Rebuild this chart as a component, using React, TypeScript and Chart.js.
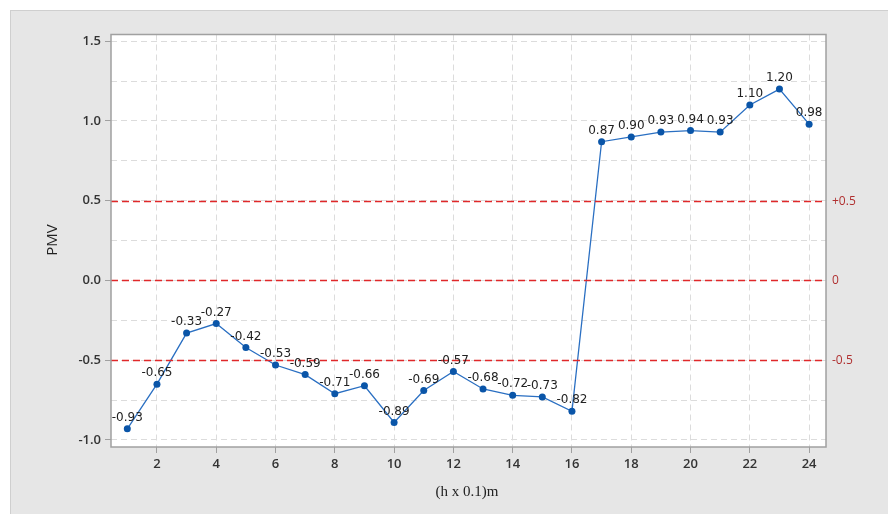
import React, { useEffect, useRef } from "react";
import { Chart, registerables } from "chart.js";

Chart.register(...registerables);

const xValues = [1, 2, 3, 4, 5, 6, 7, 8, 9, 10, 11, 12, 13, 14, 15, 16, 17, 18, 19, 20, 21, 22, 23, 24];
const pmvValues = [-0.93, -0.65, -0.33, -0.27, -0.42, -0.53, -0.59, -0.71, -0.66, -0.89, -0.69, -0.57, -0.68, -0.72, -0.73, -0.82, 0.87, 0.9, 0.93, 0.94, 0.93, 1.1, 1.2, 0.98];
const xTicks = [2, 4, 6, 8, 10, 12, 14, 16, 18, 20, 22, 24];
const yTicks = [-1, -0.75, -0.5, -0.25, 0, 0.25, 0.5, 0.75, 1, 1.25, 1.5];
const refLines = [0.5, 0, -0.5];
const refLabels = ["+0.5", "0", "-0.5"];

const W = 888;
const H = 514;

const decor = {
  id: "decor",
  beforeDraw(chart: any) {
    const ctx = chart.ctx;
    const a = chart.chartArea;
    ctx.save();
    ctx.fillStyle = "#ffffff";
    ctx.fillRect(0, 0, W, H);
    ctx.fillStyle = "#e6e6e6";
    ctx.fillRect(10, 10, W - 10, H - 10);
    ctx.strokeStyle = "#cfcfcf";
    ctx.lineWidth = 1;
    ctx.beginPath();
    ctx.moveTo(10, 10.5);
    ctx.lineTo(W, 10.5);
    ctx.moveTo(10.5, 10);
    ctx.lineTo(10.5, H);
    ctx.stroke();
    ctx.fillStyle = "#ffffff";
    ctx.fillRect(a.left, a.top, a.right - a.left, a.bottom - a.top);
    ctx.restore();
  },
  afterDatasetsDraw(chart: any) {
    const ctx = chart.ctx;
    const a = chart.chartArea;
    const ys = chart.scales.y;
    ctx.save();
    ctx.strokeStyle = "#e0282a";
    ctx.lineWidth = 1.3;
    ctx.setLineDash([7, 4]);
    refLines.forEach((v, i) => {
      const y = Math.round(ys.getPixelForValue(v)) + 0.5;
      ctx.beginPath();
      ctx.moveTo(a.left, y);
      ctx.lineTo(a.right, y);
      ctx.stroke();
      ctx.fillStyle = "#b03030";
      ctx.font = "12px 'Open Sans', sans-serif";
      ctx.textAlign = "left";
      ctx.textBaseline = "middle";
      ctx.fillText(refLabels[i], a.right + 6, y);
    });
    ctx.restore();
  },
  afterDraw(chart: any) {
    const ctx = chart.ctx;
    const a = chart.chartArea;
    const xs = chart.scales.x;
    const ys = chart.scales.y;
    ctx.save();
    ctx.fillStyle = "#222222";
    ctx.font = "12px 'DejaVu Sans', sans-serif";
    ctx.textAlign = "center";
    ctx.textBaseline = "middle";
    xValues.forEach((x, i) => {
      const px = xs.getPixelForValue(x);
      const py = ys.getPixelForValue(pmvValues[i]);
      ctx.fillText(pmvValues[i].toFixed(2), px, py - 11);
    });
    ctx.strokeStyle = "#a0a0a0";
    ctx.lineWidth = 1.5;
    ctx.strokeRect(a.left, a.top, a.right - a.left, a.bottom - a.top);
    ctx.fillStyle = "#222222";
    ctx.font = "15px 'Open Sans', sans-serif";
    ctx.textAlign = "center";
    ctx.textBaseline = "middle";
    ctx.translate(53, 240);
    ctx.rotate(-Math.PI / 2);
    ctx.fillText("PMV", 0, 0);
    ctx.restore();
    ctx.save();
    ctx.fillStyle = "#222222";
    ctx.font = "15px 'Liberation Serif', serif";
    ctx.textAlign = "center";
    ctx.textBaseline = "middle";
    ctx.fillText("(h x 0.1)m", 467, 492);
    ctx.restore();
  },
};

export default function App() {
  const ref = useRef<HTMLCanvasElement | null>(null);
  useEffect(() => {
    if (!ref.current) return;
    const chart = new Chart(ref.current, {
      type: "scatter",
      data: {
        datasets: [
          {
            data: xValues.map((x, i) => ({ x, y: pmvValues[i] })),
            showLine: true,
            borderColor: "#2a6fc2",
            borderWidth: 1.3,
            pointBackgroundColor: "#0a55a8",
            pointBorderColor: "#0a55a8",
            pointRadius: 3.5,
            pointBorderWidth: 0,
          },
        ],
      },
      plugins: [decor],
      options: {
        animation: false,
        responsive: false,
        devicePixelRatio: 1,
        layout: { padding: { top: 34.5, right: 62, left: 0, bottom: 0 } },
        plugins: { legend: { display: false }, tooltip: { enabled: false } },
        scales: {
          x: {
            type: "linear",
            min: 0.45,
            max: 24.57,
            afterBuildTicks: (s: any) => {
              s.ticks = xTicks.map((v) => ({ value: v }));
            },
            afterFit: (s: any) => {
              s.height = 67;
            },
            grid: {
              color: "#dcdcdc",
              lineWidth: 1,
              tickLength: 6,
              tickColor: "#a0a0a0",
            },
            border: { display: false, dash: [6, 4] },
            ticks: {
              color: "#333333",
              font: { family: "'Open Sans', sans-serif", size: 13, weight: "600" },
              padding: 3,
              maxRotation: 0,
              autoSkip: false,
              callback: (v: any) => String(v),
            },
          },
          y: {
            type: "linear",
            min: -1.044,
            max: 1.542,
            afterBuildTicks: (s: any) => {
              s.ticks = yTicks.map((v) => ({ value: v }));
            },
            afterFit: (s: any) => {
              s.width = 111;
            },
            grid: {
              color: "#dcdcdc",
              lineWidth: 1,
              tickLength: 6,
              tickColor: (c: any) =>
                c.tick && Math.abs(c.tick.value * 2 - Math.round(c.tick.value * 2)) < 1e-6
                  ? "#a0a0a0"
                  : "rgba(0,0,0,0)",
            },
            border: { display: false, dash: [6, 4] },
            ticks: {
              color: "#333333",
              font: { family: "'Open Sans', sans-serif", size: 13, weight: "600" },
              padding: 4,
              autoSkip: false,
              callback: (v: any) => {
                const n = Number(v);
                if (Math.abs(n * 2 - Math.round(n * 2)) > 1e-6) return "";
                return n.toFixed(1);
              },
            },
          },
        },
      },
    });
    return () => chart.destroy();
  }, []);
  return (
    <div style={{ position: "absolute", left: 0, top: 0, width: W, height: H }}>
      <canvas ref={ref} width={W} height={H} style={{ width: W, height: H, display: "block" }} />
    </div>
  );
}
